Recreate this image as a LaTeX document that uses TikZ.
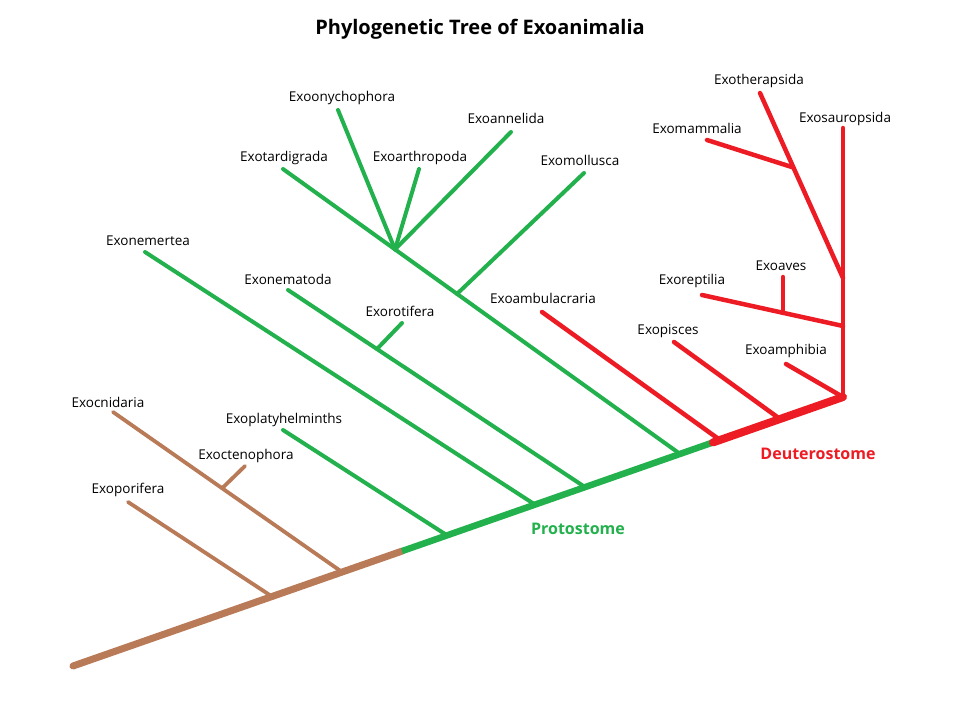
\documentclass[tikz,border=0pt]{standalone}
\usepackage{fontspec}
\setmainfont{Open Sans}
\begin{document}
\begin{tikzpicture}[x=1pt,y=-1pt,
  lbl/.style={inner sep=0pt,font=\fontsize{13.5}{15}\selectfont,text=black},
  clade/.style={inner sep=0pt,font=\bfseries\fontsize{16}{18}\selectfont},
  brbr/.style={draw=pbrown,line width=3.8pt,line cap=round},
  grbr/.style={draw=pgreen,line width=4pt,line cap=round},
  rdbr/.style={draw=pred,line width=4.5pt,line cap=round},
  trunkb/.style={draw=pbrown,line width=7pt,line cap=round},
  trunkg/.style={draw=pgreen,line width=6.5pt},
  trunkr/.style={draw=pred,line width=8pt,line cap=round}]
\definecolor{pbrown}{RGB}{185,122,87}
\definecolor{pgreen}{RGB}{34,177,76}
\definecolor{pred}{RGB}{237,28,36}
\useasboundingbox[fill=white] (0,0) rectangle (960,720);

% title
\node[inner sep=0pt,font=\bfseries\fontsize{20}{23}\selectfont] (title) at (480,29) {Phylogenetic Tree of Exoanimalia};

% trunk coordinates
\coordinate (root) at (73,666);
\coordinate (j1) at (272,596.5);
\coordinate (j2) at (342,572);
\coordinate (sbg) at (402,551.1);
\coordinate (j3) at (447,535.3);
\coordinate (j4) at (535,504.6);
\coordinate (j5) at (585,487.1);
\coordinate (j6) at (680,453.9);
\coordinate (sgr) at (713,442.4);
\coordinate (j7) at (720,440);
\coordinate (j8) at (780,419);
\coordinate (top) at (843,397);

% tips and inner junctions
\coordinate (tpor) at (128,502);
\coordinate (tcni) at (113,412);
\coordinate (kcte) at (223,487.4);
\coordinate (tcte) at (245,466);
\coordinate (tpla) at (283,430);
\coordinate (tnem) at (145,252);
\coordinate (tnma) at (288,290);
\coordinate (krot) at (377,349);
\coordinate (trot) at (402,323);
\coordinate (ttar) at (283,169);
\coordinate (kpro) at (395,249.4);
\coordinate (kmol) at (457,293.9);
\coordinate (tony) at (338,110);
\coordinate (tart) at (419,169);
\coordinate (tann) at (511,132);
\coordinate (tmol) at (584,173);
\coordinate (tamb) at (542,312);
\coordinate (tpis) at (674,342);
\coordinate (tamp) at (786,364);
\coordinate (trep) at (702,295);
\coordinate (krep) at (843,326);
\coordinate (kave) at (783,312.9);
\coordinate (tave) at (783,277);
\coordinate (kthe) at (843,278);
\coordinate (tthe) at (760,93);
\coordinate (kmam) at (793,167.4);
\coordinate (tmam) at (707,140);
\coordinate (tsau) at (843,128);

% brown branches
\draw[brbr] (tpor) -- (j1);
\draw[brbr] (tcni) -- (j2);
\draw[brbr] (tcte) -- (kcte);

% green branches
\draw[grbr] (tpla) -- (j3);
\draw[grbr] (tnem) -- (j4);
\draw[grbr] (tnma) -- (j5);
\draw[grbr] (trot) -- (krot);
\draw[grbr] (ttar) -- (j6);
\draw[grbr] (tony) -- (kpro);
\draw[grbr] (tart) -- (kpro);
\draw[grbr] (tann) -- (kpro);
\draw[grbr] (tmol) -- (kmol);

% red branches
\draw[rdbr] (tamb) -- (j7);
\draw[rdbr] (tpis) -- (j8);
\draw[rdbr] (tamp) -- (top);
\draw[rdbr] (trep) -- (krep);
\draw[rdbr] (tave) -- (kave);
\draw[rdbr] (tthe) -- (kthe);
\draw[rdbr] (tmam) -- (kmam);
\draw[rdbr] (tsau) -- (top);

% trunk
\draw[trunkb] (root) -- (sbg);
\draw[trunkg] (sbg) -- (sgr);
\draw[trunkr] (sgr) -- (top);

% labels
\node[lbl] (lpor) at (128,490) {Exoporifera};
\node[lbl] (lcni) at (108,402) {Exocnidaria};
\node[lbl] (lcte) at (246,456) {Exoctenophora};
\node[lbl] (lpla) at (284,420) {Exoplatyhelminths};
\node[lbl] (lnem) at (148,241) {Exonemertea};
\node[lbl] (lnma) at (288,279) {Exonematoda};
\node[lbl] (lrot) at (400,311) {Exorotifera};
\node[lbl] (ltar) at (284,158) {Exotardigrada};
\node[lbl] (lony) at (342,98) {Exoonychophora};
\node[lbl] (lart) at (420,158) {Exoarthropoda};
\node[lbl] (lann) at (506,118) {Exoannelida};
\node[lbl] (lmol) at (580,160) {Exomollusca};
\node[lbl] (lamb) at (543,298) {Exoambulacraria};
\node[lbl] (lpis) at (668,331) {Exopisces};
\node[lbl] (lamp) at (786,351) {Exoamphibia};
\node[lbl] (lrep) at (692,281) {Exoreptilia};
\node[lbl] (lave) at (781,266) {Exoaves};
\node[lbl] (lmam) at (697,128) {Exomammalia};
\node[lbl] (lthe) at (759,81) {Exotherapsida};
\node[lbl] (lsau) at (845,119) {Exosauropsida};

\node[clade,text=pgreen] (proto) at (578,529) {Protostome};
\node[clade,text=pred] (deut) at (818,454) {Deuterostome};
\end{tikzpicture}
\end{document}
